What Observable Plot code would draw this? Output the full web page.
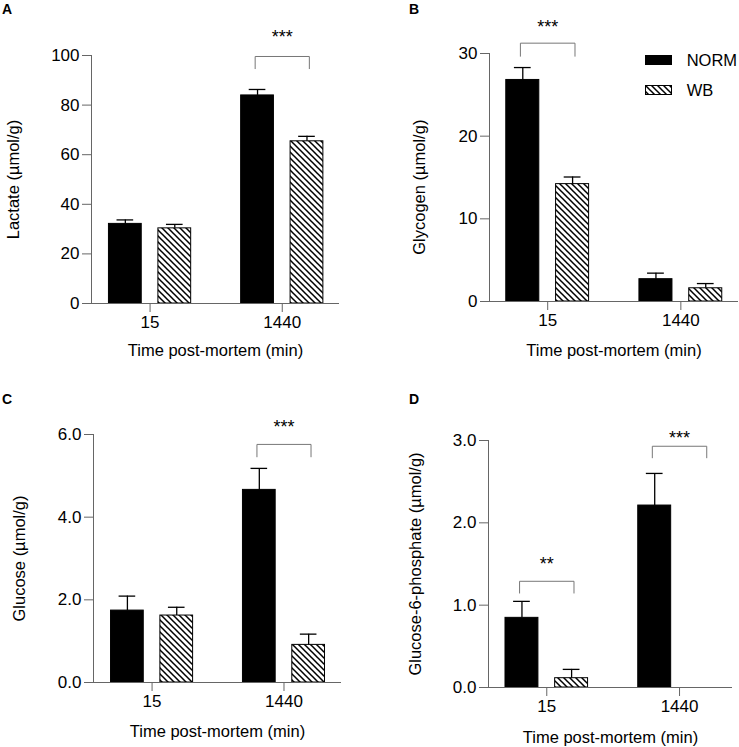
<!DOCTYPE html>
<html>
<head>
<meta charset="utf-8">
<script src="https://cdn.jsdelivr.net/npm/d3@7"></script>
<script src="https://cdn.jsdelivr.net/npm/@observablehq/plot@0.6"></script>
<style>
  body { margin: 0; background: #fff; font-family: "Liberation Sans", Arial, Helvetica, sans-serif; }
  #fig { position: relative; width: 739px; height: 747px; overflow: hidden; background: #fff; }
  .panel { position: absolute; }
  .panel svg { display: block; }
  .letter { position: absolute; font-weight: bold; font-size: 14px; line-height: 14px; color: #000; }
  .legend { position: absolute; left: 645px; top: 48px; font-size: 16.5px; color: #000; }
  .legend .row { position: relative; height: 30px; }
  .legend .row svg { position: absolute; left: 0; top: 7px; }
  .legend .row span { position: absolute; left: 41.7px; top: 2px; line-height: 20px; white-space: nowrap; }
</style>
</head>
<body>
<svg width="0" height="0" style="position:absolute">
  <defs>
    <pattern id="hatch" patternUnits="userSpaceOnUse" width="6" height="6">
      <rect width="6" height="6" fill="#fff"/>
      <path d="M-1,-1L7,7M5,-1L7,1M-1,5L1,7" stroke="#000" stroke-width="1.5"/>
    </pattern>
  </defs>
</svg>
<div id="fig"></div>
<script>
// ---- data ----
const timeGroups = ["15", "1440"];
const seriesNames = ["NORM", "WB"];
const xTitle = "Time post-mortem (min)";

// Panel A: Lactate
const lactateNORM = [32.1, 83.9];
const lactateNORMsem = [1.6, 2.4];
const lactateWB = [30.3, 65.4];
const lactateWBsem = [1.6, 2.0];
const lactateTicks = [0, 20, 40, 60, 80, 100];
const lactateSig = [{time: "1440", label: "***", level: 99.6, foot: 94.7, labelY: 110.1}];

// Panel B: Glycogen
const glycogenNORM = [26.8, 2.7];
const glycogenNORMsem = [1.5, 0.73];
const glycogenWB = [14.2, 1.6];
const glycogenWBsem = [0.86, 0.57];
const glycogenTicks = [0, 10, 20, 30];
const glycogenSig = [{time: "15", label: "***", level: 31.25, foot: 29.67, labelY: 34.07}];

// Panel C: Glucose
const glucoseNORM = [1.74, 4.66];
const glucoseNORMsem = [0.35, 0.52];
const glucoseWB = [1.62, 0.91];
const glucoseWBsem = [0.20, 0.26];
const glucoseTicks = [0, 2, 4, 6];
const glucoseSig = [{time: "1440", label: "***", level: 5.76, foot: 5.46, labelY: 6.34}];

// Panel D: Glucose-6-phosphate
const g6pNORM = [0.846, 2.21];
const g6pNORMsem = [0.20, 0.39];
const g6pWB = [0.113, 0];
const g6pWBsem = [0.107, 0];
const g6pTicks = [0, 1, 2, 3];
const g6pSig = [
  {time: "15", label: "**", level: 1.29, foot: 1.147, labelY: 1.587},
  {time: "1440", label: "***", level: 2.93, foot: 2.79, labelY: 3.114}
];

// ---- layout constants ----
const BAR_OFFSET = 0.187, BAR_HALF = 0.124, CAP_HALF = 0.063, BRACKET_HALF = 0.205;
const FONT = '"Liberation Sans", Arial, Helvetica, sans-serif';
const AXIS = "#666", BRACKET = "#777";

function rowsFor(nMean, nSem, wMean, wSem) {
  const rows = [];
  timeGroups.forEach((t, gi) => {
    rows.push({time: t, series: seriesNames[0], xc: gi - BAR_OFFSET, mean: nMean[gi], sem: nSem[gi]});
    rows.push({time: t, series: seriesNames[1], xc: gi + BAR_OFFSET, mean: wMean[gi], sem: wSem[gi]});
  });
  return rows;
}

function makePanel(cfg) {
  const rows = rowsFor(cfg.nMean, cfg.nSem, cfg.wMean, cfg.wSem).filter(d => d.mean > 0);
  const pts = cfg.sig.flatMap((b, i) => {
    const g = timeGroups.indexOf(b.time);
    return [
      {id: i, x: g - BRACKET_HALF, y: b.foot},
      {id: i, x: g - BRACKET_HALF, y: b.level},
      {id: i, x: g + BRACKET_HALF, y: b.level},
      {id: i, x: g + BRACKET_HALF, y: b.foot}
    ];
  });
  const plot = Plot.plot({
    width: cfg.w, height: cfg.h,
    marginLeft: cfg.m[0], marginTop: cfg.m[1], marginRight: cfg.m[2], marginBottom: cfg.m[3],
    style: {fontFamily: FONT, fontSize: "17px", color: "#000", background: "transparent", overflow: "visible"},
    x: {type: "linear", domain: cfg.xDomain},
    y: {domain: cfg.yDomain},
    marks: [
      Plot.rect(rows.filter(d => d.series === "NORM"), {
        x1: d => d.xc - BAR_HALF, x2: d => d.xc + BAR_HALF, y1: d => 0, y2: "mean",
        fill: "#000", stroke: "#000", strokeWidth: 1
      }),
      Plot.rect(rows.filter(d => d.series === "WB"), {
        x1: d => d.xc - BAR_HALF, x2: d => d.xc + BAR_HALF, y1: d => 0, y2: "mean",
        fill: "url(#hatch)", stroke: "#000", strokeWidth: 1
      }),
      Plot.ruleX(rows.filter(d => d.sem > 0), {x: "xc", y1: "mean", y2: d => d.mean + d.sem, stroke: "#000", strokeWidth: 1.3}),
      Plot.ruleY(rows.filter(d => d.sem > 0), {y: d => d.mean + d.sem, x1: d => d.xc - CAP_HALF, x2: d => d.xc + CAP_HALF, stroke: "#000", strokeWidth: 1.3}),
      Plot.ruleY([0], {stroke: AXIS, strokeWidth: 1}),
      Plot.ruleX([cfg.xDomain[0]], {stroke: AXIS, strokeWidth: 1}),
      Plot.axisY({ticks: cfg.yTicks, tickFormat: cfg.fmt, tickSize: 9, tickPadding: 3, stroke: AXIS, fill: "#000", fontSize: 17, label: null}),
      Plot.axisX({ticks: [0, 1], tickFormat: i => timeGroups[i], tickSize: 9, tickPadding: 3, stroke: AXIS, fill: "#000", fontSize: 17, label: null}),
      Plot.text([cfg.yTitle], {text: d => d, frameAnchor: "left", rotate: -90, dx: -cfg.yTitleOffset, dy: cfg.yTitleDy,
        lineAnchor: "top", textAnchor: "middle", fontSize: 16.5, fill: "#000"}),
      Plot.text([xTitle], {text: d => d, frameAnchor: "bottom", dy: cfg.xTitleDy, lineAnchor: "top", textAnchor: "middle", fontSize: 16.5, fill: "#000"}),
      Plot.line(pts, {x: "x", y: "y", z: "id", stroke: BRACKET, strokeWidth: 1}),
      Plot.text(cfg.sig, {x: d => timeGroups.indexOf(d.time), y: "labelY", text: "label", lineAnchor: "top", fontSize: 18, fill: "#000"})
    ]
  });
  const div = document.createElement("div");
  div.className = "panel";
  div.style.left = cfg.left + "px";
  div.style.top = cfg.top + "px";
  div.appendChild(plot);
  document.getElementById("fig").appendChild(div);
}

const fmtInt = d3.format("d"), fmt1 = d3.format(".1f");

makePanel({left: 0, top: 0, w: 370, h: 370, m: [91, 55, 31, 67], xDomain: [-0.443, 1.433],
  yDomain: [0, 100], yTicks: lactateTicks, fmt: fmtInt, yTitle: "Lactate (µmol/g)", yTitleOffset: 84, yTitleDy: 0, xTitleDy: 41,
  nMean: lactateNORM, nSem: lactateNORMsem, wMean: lactateWB, wSem: lactateWBsem, sig: lactateSig});

makePanel({left: 370, top: 0, w: 369, h: 370, m: [119, 53, 1, 69], xDomain: [-0.437, 1.433],
  yDomain: [0, 30], yTicks: glycogenTicks, fmt: fmtInt, yTitle: "Glycogen (µmol/g)", yTitleOffset: 76, yTitleDy: 9.7, xTitleDy: 43,
  nMean: glycogenNORM, nSem: glycogenNORMsem, wMean: glycogenWB, wSem: glycogenWBsem, sig: glycogenSig});

makePanel({left: 0, top: 370, w: 370, h: 377, m: [93, 64, 29, 65], xDomain: [-0.444, 1.436],
  yDomain: [0, 6], yTicks: glucoseTicks, fmt: fmt1, yTitle: "Glucose (µmol/g)", yTitleOffset: 80, yTitleDy: 0, xTitleDy: 42.3,
  nMean: glucoseNORM, nSem: glucoseNORMsem, wMean: glucoseWB, wSem: glucoseWBsem, sig: glucoseSig});

makePanel({left: 370, top: 370, w: 369, h: 377, m: [118, 70, 7, 60], xDomain: [-0.439, 1.399],
  yDomain: [0, 3], yTicks: g6pTicks, fmt: fmt1, yTitle: "Glucose-6-phosphate (µmol/g)", yTitleOffset: 79.4, yTitleDy: 0, xTitleDy: 43.3,
  nMean: g6pNORM, nSem: g6pNORMsem, wMean: g6pWB, wSem: g6pWBsem, sig: g6pSig});

// panel letters
const fig = document.getElementById("fig");
[["A", 2, 2], ["B", 409, 1.5], ["C", 2, 392], ["D", 409, 392]].forEach(([t, x, y]) => {
  const el = document.createElement("div");
  el.className = "letter"; el.textContent = t;
  el.style.left = x + "px"; el.style.top = y + "px";
  fig.appendChild(el);
});

// legend
const legend = document.createElement("div");
legend.className = "legend";
seriesNames.forEach((s, i) => {
  const row = document.createElement("div");
  row.className = "row";
  const fill = i === 0 ? "#000" : "url(#hatch)";
  row.innerHTML = `<svg width="27" height="10"><rect x="0.5" y="0.5" width="26" height="9" fill="${fill}" stroke="#000" stroke-width="1"/></svg><span>${s}</span>`;
  legend.appendChild(row);
});
fig.appendChild(legend);
</script>
</body>
</html>
